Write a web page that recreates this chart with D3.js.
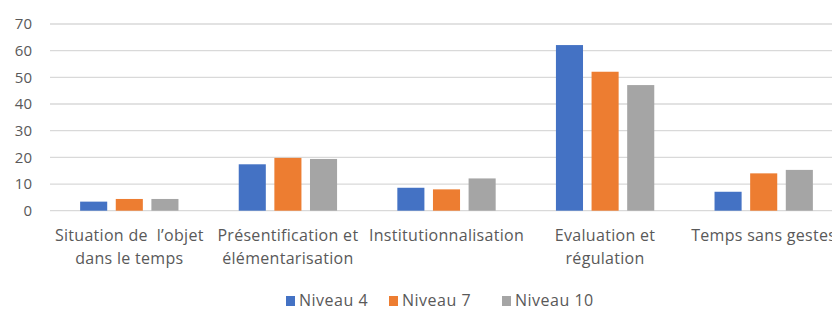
<!DOCTYPE html>
<html>
<head>
<meta charset="utf-8">
<script src="https://cdn.jsdelivr.net/npm/d3@7"></script>
<style>
  body { margin: 0; background: #fff; }
  text { font-family: "Open Sans", sans-serif; fill: #595959; }
</style>
</head>
<body>
<div id="chart"></div>
<script>
// chart size
var width = 832,
    height = 310;

// categories (line breaks as in the original)
var categories = [
  "Situation de  l\u2019objet\ndans le temps",
  "Pr\u00e9sentification et\n\u00e9l\u00e9mentarisation",
  "Institutionnalisation",
  "Evaluation et\nr\u00e9gulation",
  "Temps sans gestes"
];
var series = ["Niveau 4", "Niveau 7", "Niveau 10"];
var niveau4 = [3.4, 17.4, 8.6, 62.1, 7.1];
var niveau7 = [4.4, 19.8, 8.0, 52.1, 14.0];
var niveau10 = [4.4, 19.4, 12.1, 47.1, 15.3];
var yTicks = [0, 10, 20, 30, 40, 50, 60, 70];

var colors = {"Niveau 4": "#4472C4", "Niveau 7": "#ED7D31", "Niveau 10": "#A5A5A5"};
var values = {"Niveau 4": niveau4, "Niveau 7": niveau7, "Niveau 10": niveau10};

var svg = d3.select("#chart")
  .append("svg")
  .attr("width", width)
  .attr("height", height);

// plot area runs past the right edge (the original is cropped)
var x0 = d3.scaleBand()
  .domain(categories)
  .range([50, 843])
  .paddingInner(0.38)
  .paddingOuter(0.19);

var x1 = d3.scaleBand()
  .domain(series)
  .range([0, x0.bandwidth()])
  .paddingInner(0.24);

var y = d3.scaleLinear()
  .domain([0, 70])
  .range([210.7, 24]);

// gridlines
svg.append("g")
  .selectAll("line")
  .data(yTicks)
  .enter().append("line")
  .attr("x1", 50)
  .attr("x2", width)
  .attr("y1", d => y(d))
  .attr("y2", d => y(d))
  .attr("stroke", "#d9d9d9")
  .attr("stroke-width", 1.3);

// y labels
svg.append("g")
  .selectAll("text")
  .data(yTicks)
  .enter().append("text")
  .attr("x", 32)
  .attr("y", d => y(d))
  .attr("dy", "0.36em")
  .style("text-anchor", "end")
  .style("font-size", "15px")
  .text(d => d);

// bars
var groups = svg.append("g")
  .selectAll("g")
  .data(categories)
  .enter().append("g")
  .attr("transform", d => "translate(" + x0(d) + ",0)");

groups.selectAll("rect")
  .data((d, i) => series.map(s => ({series: s, value: values[s][i]})))
  .enter().append("rect")
  .attr("x", d => x1(d.series))
  .attr("width", x1.bandwidth())
  .attr("y", d => y(d.value))
  .attr("height", d => y(0) - y(d.value))
  .attr("fill", d => colors[d.series]);

// category labels
var labels = svg.append("g")
  .selectAll("text")
  .data(categories)
  .enter().append("text")
  .attr("x", d => x0(d) + x0.bandwidth() / 2)
  .attr("y", 241)
  .style("text-anchor", "middle")
  .style("font-size", "16px")
  .style("letter-spacing", "0.3px")
  .style("white-space", "pre");

labels.selectAll("tspan")
  .data(d => d.split("\n"))
  .enter().append("tspan")
  .attr("x", function () { return d3.select(this.parentNode).attr("x"); })
  .attr("dy", (d, i) => i == 0 ? 0 : 22.5)
  .text(d => d);

// legend
var legendX = [286, 389, 502];
var legend = svg.append("g")
  .selectAll("g")
  .data(series)
  .enter().append("g")
  .attr("transform", (d, i) => "translate(" + legendX[i] + ",306)");

legend.append("rect")
  .attr("x", 0)
  .attr("y", -10)
  .attr("width", 9)
  .attr("height", 10)
  .attr("fill", d => colors[d]);

legend.append("text")
  .attr("x", 13)
  .attr("y", 0)
  .style("font-size", "16px")
  .style("letter-spacing", "0.5px")
  .text(d => d);
</script>
</body>
</html>
